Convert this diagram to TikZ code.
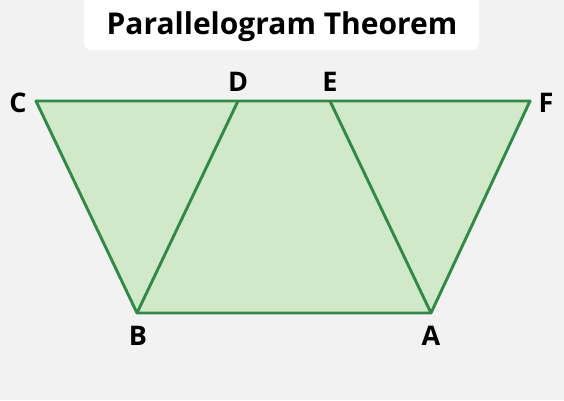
\documentclass[tikz,border=0pt]{standalone}
\usepackage{fontspec}
\setmainfont{Open Sans}
\definecolor{bg}{HTML}{F2F2F2}
\definecolor{gfill}{HTML}{D1E8C9}
\definecolor{gline}{HTML}{2E8B45}
\begin{document}
\begin{tikzpicture}[x=1pt,y=-1pt,
  lbl/.style={font=\fontsize{27}{30}\selectfont\bfseries, text=black, inner sep=0pt},
  edge/.style={draw=gline, line width=2.9pt, line join=round}]
\fill[bg] (0,0) rectangle (564,400);
\useasboundingbox (0,0) rectangle (564,400);
\fill[white, rounded corners=7pt] (84,-10) rectangle (479,50);
\node[font=\fontsize{30}{33}\selectfont\bfseries, inner sep=0pt] (title) at (282,26.5) {Parallelogram Theorem};
\coordinate (C) at (36,101);
\coordinate (D) at (238,101);
\coordinate (E) at (330,101);
\coordinate (F) at (530,101);
\coordinate (B) at (137,313);
\coordinate (A) at (431,313);
\fill[gfill] (C) -- (F) -- (A) -- (B) -- cycle;
\draw[edge] (C) -- (F) -- (A) -- (B) -- cycle;
\draw[edge] (B) -- (D);
\draw[edge] (E) -- (A);
\node[lbl] (lC) at (18,103) {C};
\node[lbl] (lD) at (238,82) {D};
\node[lbl] (lE) at (330,82) {E};
\node[lbl] (lF) at (546,103) {F};
\node[lbl] (lB) at (138,336) {B};
\node[lbl] (lA) at (431,336) {A};
\end{tikzpicture}
\end{document}
